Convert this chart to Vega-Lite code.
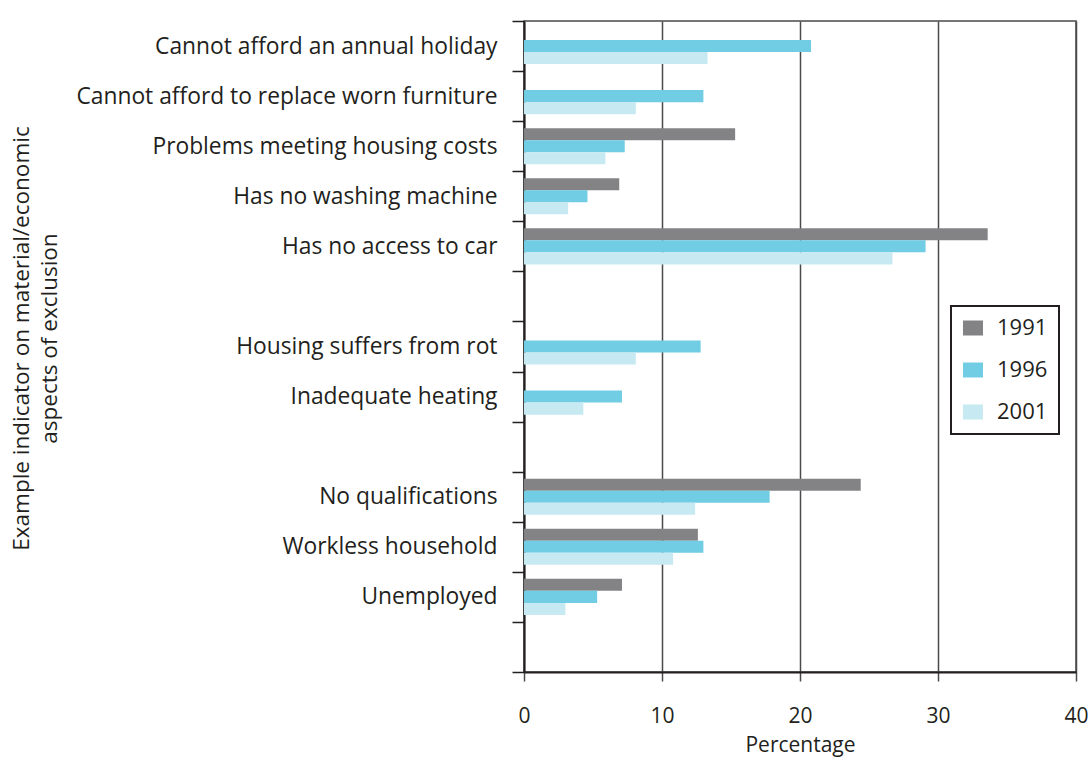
{
  "$schema": "https://vega.github.io/schema/vega-lite/v6.json",
  "autosize": {"type": "none"},
  "padding": {"left": 524, "top": 21, "right": 12, "bottom": 88},
  "width": 552,
  "height": 651,
  "background": "white",
  "config": {
    "font": "Open Sans",
    "view": {"stroke": "#4a4a4a", "strokeWidth": 1.5},
    "axis": {"labelColor": "#231f20", "titleColor": "#231f20", "titleFontWeight": "normal"}
  },
  "data": {
    "values": [
      {"indicator": "Cannot afford an annual holiday", "year": "1996", "value": 20.8},
      {"indicator": "Cannot afford an annual holiday", "year": "2001", "value": 13.3},
      {"indicator": "Cannot afford to replace worn furniture", "year": "1996", "value": 13.0},
      {"indicator": "Cannot afford to replace worn furniture", "year": "2001", "value": 8.1},
      {"indicator": "Problems meeting housing costs", "year": "1991", "value": 15.3},
      {"indicator": "Problems meeting housing costs", "year": "1996", "value": 7.3},
      {"indicator": "Problems meeting housing costs", "year": "2001", "value": 5.9},
      {"indicator": "Has no washing machine", "year": "1991", "value": 6.9},
      {"indicator": "Has no washing machine", "year": "1996", "value": 4.6},
      {"indicator": "Has no washing machine", "year": "2001", "value": 3.2},
      {"indicator": "Has no access to car", "year": "1991", "value": 33.6},
      {"indicator": "Has no access to car", "year": "1996", "value": 29.1},
      {"indicator": "Has no access to car", "year": "2001", "value": 26.7},
      {"indicator": "Housing suffers from rot", "year": "1996", "value": 12.8},
      {"indicator": "Housing suffers from rot", "year": "2001", "value": 8.1},
      {"indicator": "Inadequate heating", "year": "1996", "value": 7.1},
      {"indicator": "Inadequate heating", "year": "2001", "value": 4.3},
      {"indicator": "No qualifications", "year": "1991", "value": 24.4},
      {"indicator": "No qualifications", "year": "1996", "value": 17.8},
      {"indicator": "No qualifications", "year": "2001", "value": 12.4},
      {"indicator": "Workless household", "year": "1991", "value": 12.6},
      {"indicator": "Workless household", "year": "1996", "value": 13.0},
      {"indicator": "Workless household", "year": "2001", "value": 10.8},
      {"indicator": "Unemployed", "year": "1991", "value": 7.1},
      {"indicator": "Unemployed", "year": "1996", "value": 5.3},
      {"indicator": "Unemployed", "year": "2001", "value": 3.0}
    ]
  },
  "mark": {"type": "bar"},
  "encoding": {
    "y": {
      "field": "indicator",
      "type": "nominal",
      "sort": null,
      "scale": {
        "domain": [
          "Cannot afford an annual holiday",
          "Cannot afford to replace worn furniture",
          "Problems meeting housing costs",
          "Has no washing machine",
          "Has no access to car",
          " ",
          "Housing suffers from rot",
          "Inadequate heating",
          "  ",
          "No qualifications",
          "Workless household",
          "Unemployed",
          "   "
        ],
        "paddingInner": 0,
        "paddingOuter": 0
      },
      "axis": {
        "title": ["Example indicator on material/economic", "aspects of exclusion"],
        "titleFontSize": 22.5,
        "titleLineHeight": 28,
        "titleAngle": -90,
        "titleAlign": "center",
        "titleBaseline": "top",
        "titleX": -514,
        "titleY": 317,
        "labelFontSize": 22.8,
        "labelPadding": 15,
        "labelLimit": 500,
        "tickBand": "extent",
        "tickSize": 12,
        "tickColor": "#231f20",
        "tickWidth": 1.5,
        "domainColor": "#231f20",
        "domainWidth": 2,
        "grid": false
      }
    },
    "yOffset": {
      "field": "year",
      "type": "nominal",
      "scale": {"domain": ["1991", "1996", "2001"], "paddingInner": 0, "paddingOuter": 0.58}
    },
    "x": {
      "field": "value",
      "type": "quantitative",
      "scale": {"domain": [0, 40], "nice": false},
      "axis": {
        "title": "Percentage",
        "titleFontSize": 21,
        "titlePadding": 8,
        "values": [0, 10, 20, 30, 40],
        "labelFontSize": 21,
        "labelPadding": 24,
        "labelFlush": false,
        "tickSize": 9,
        "tickColor": "#4a4a4a",
        "tickWidth": 1.5,
        "grid": true,
        "gridColor": "#4a4a4a",
        "gridWidth": 1.5,
        "gridOpacity": 1,
        "domainColor": "#231f20",
        "domainWidth": 2
      }
    },
    "color": {
      "field": "year",
      "type": "nominal",
      "scale": {"domain": ["1991", "1996", "2001"], "range": ["#838386", "#70cde3", "#c6e9f2"]},
      "legend": {
        "title": null,
        "orient": "none",
        "legendX": 427,
        "legendY": 285,
        "padding": 11,
        "strokeColor": "#231f20",
        "fillColor": "white",
        "symbolType": "M-1,-0.75H1V0.75H-1Z",
        "symbolSize": 400,
        "symbolStrokeWidth": 0,
        "labelFontSize": 22,
        "labelColor": "#231f20",
        "labelOffset": 13,
        "rowPadding": 20,
        "symbolOpacity": 1,
        "encode": {"legend": {"update": {"strokeWidth": {"value": 2}}}}
      }
    }
  }
}
